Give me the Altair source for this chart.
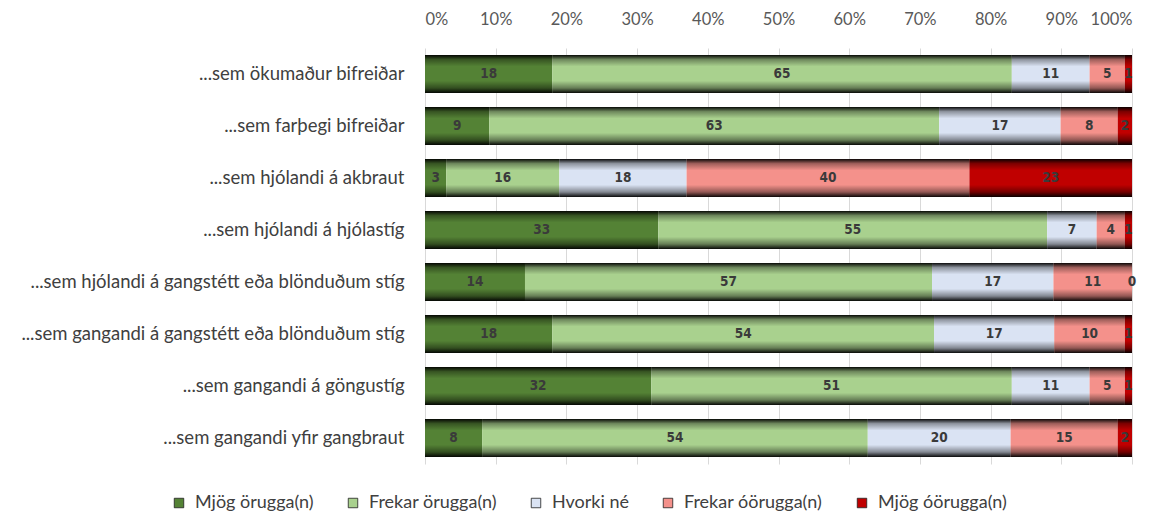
import altair as alt
import pandas as pd

categories = [
    "...sem ökumaður bifreiðar",
    "...sem farþegi bifreiðar",
    "...sem hjólandi á akbraut",
    "...sem hjólandi á hjólastíg",
    "...sem hjólandi á gangstétt eða blönduðum stíg",
    "...sem gangandi á gangstétt eða blönduðum stíg",
    "...sem gangandi á göngustíg",
    "...sem gangandi yfir gangbraut",
]
responses = ["Mjög örugga(n)", "Frekar örugga(n)", "Hvorki né", "Frekar óörugga(n)", "Mjög óörugga(n)"]
mjog_orugg = [18, 9, 3, 33, 14, 18, 32, 8]
frekar_orugg = [65, 63, 16, 55, 57, 54, 51, 54]
hvorki = [11, 17, 18, 7, 17, 17, 11, 20]
frekar_oorugg = [5, 8, 40, 4, 11, 10, 5, 15]
mjog_oorugg = [1, 2, 23, 1, 0, 1, 1, 2]
colors = ["#548235", "#a9d18e", "#dae3f3", "#f4918b", "#c00000"]
series = [mjog_orugg, frekar_orugg, hvorki, frekar_oorugg, mjog_oorugg]

rows = []
for si, (resp, vals) in enumerate(zip(responses, series)):
    for ci, cat in enumerate(categories):
        rows.append({"cat": cat, "resp": resp, "order": si, "value": vals[ci]})
df = pd.DataFrame(rows)

FONT = "Lato"

base = alt.Chart(df).transform_stack(
    stack="value", groupby=["cat"], as_=["x0", "x1"], offset="normalize",
    sort=[alt.SortField("order", order="ascending")],
).transform_calculate(mid="(datum.x0 + datum.x1) / 2")

yenc = alt.Y("cat:N", sort=categories, title=None,
             scale=alt.Scale(paddingInner=0.27, paddingOuter=0.135),
             axis=alt.Axis(labelFontSize=18.5, labelColor="#404040", labelFont=FONT,
                           labelPadding=21, ticks=False, domain=False, labelLimit=500))
xenc = alt.X("x0:Q", title=None,
             scale=alt.Scale(domain=[0, 1], nice=False),
             axis=alt.Axis(orient="top", format=".0%", values=[i / 10 for i in range(11)],
                           labelFontSize=16.5, labelColor="#595959", labelFont=FONT,
                           ticks=False, domain=False, gridColor="#d9d9d9", labelPadding=21))

bars = base.mark_bar().encode(
    y=yenc, x=xenc, x2="x1:Q",
    color=alt.Color("resp:N", scale=alt.Scale(domain=responses, range=colors),
                    legend=alt.Legend(title=None, orient="none", direction="horizontal",
                                      legendX=-255, legendY=446, symbolType="square",
                                      symbolSize=90, labelFontSize=18, labelFont=FONT,
                                      labelColor="#404040", columnPadding=30,
                                      symbolStrokeColor="#202020", symbolStrokeWidth=0.8,
                                      labelOffset=7)),
)

grad = alt.Gradient(
    gradient="linear", x1=0, y1=0, x2=0, y2=1,
    stops=[
        alt.GradientStop(color="rgba(0,0,0,0.95)", offset=0),
        alt.GradientStop(color="rgba(0,0,0,0.35)", offset=0.12),
        alt.GradientStop(color="rgba(0,0,0,0.0)", offset=0.3),
        alt.GradientStop(color="rgba(0,0,0,0.0)", offset=0.68),
        alt.GradientStop(color="rgba(0,0,0,0.4)", offset=0.87),
        alt.GradientStop(color="rgba(0,0,0,0.95)", offset=1),
    ],
)
shade = base.mark_bar(fill=grad).encode(y=alt.Y("cat:N", sort=categories), x="x0:Q", x2="x1:Q")

labels = base.mark_text(font="'DejaVu Sans Condensed', 'Liberation Sans Narrow', sans-serif",
                        fontWeight="bold", fontSize=13.5, color="#3a3a3a").encode(
    y=alt.Y("cat:N", sort=categories), x="mid:Q", text=alt.Text("value:Q"))

chart = alt.layer(bars, shade, labels).properties(
    width=707, height=416,
    padding={"left": 417, "top": 40, "right": 22, "bottom": 47},
    autosize=alt.AutoSizeParams(type="none"),
).configure_view(stroke=None)

chart.save("out.html", embed_options={"renderer": "svg", "actions": False})
